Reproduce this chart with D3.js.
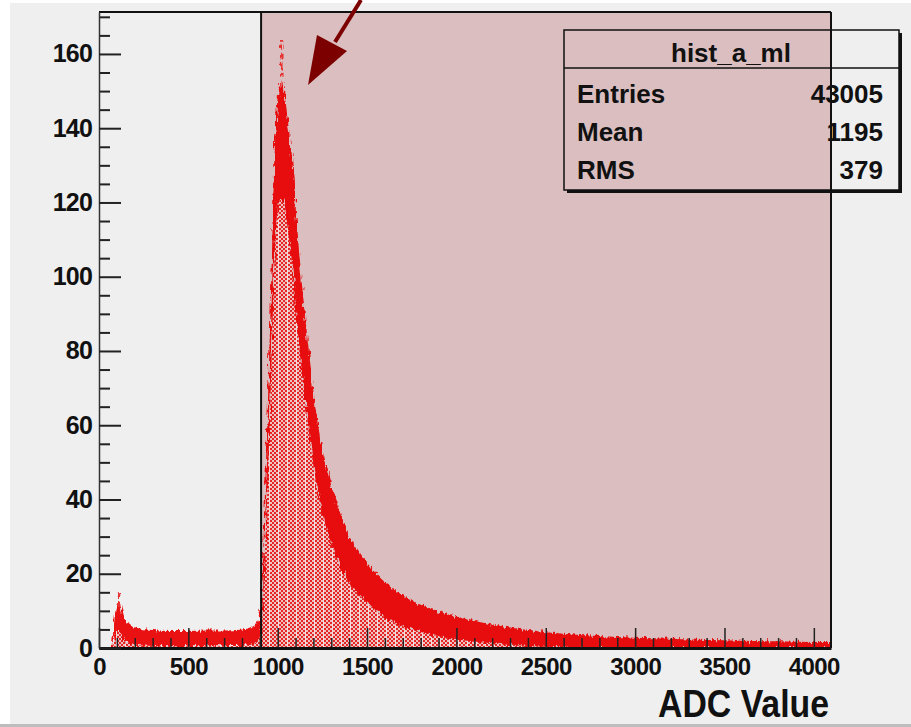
<!DOCTYPE html>
<html>
<head>
<meta charset="utf-8">
<script src="https://cdn.jsdelivr.net/npm/d3@7"></script>
<style>
  body { margin: 0; background: #fff; }
  svg text { font-family: "Liberation Sans", Arial, Helvetica, sans-serif; }
</style>
</head>
<body>
<div id="chart"></div>
<script>
// ADC spectrum: bin position (ADC) and mean entries per channel
const adcValues = [0, 60, 75, 90, 105, 120, 140, 170, 200, 300, 400, 500, 600, 700, 800, 860, 890, 905,
  910, 920, 930, 940, 950, 960, 970, 980, 990, 1000, 1015, 1030, 1045, 1060, 1080, 1100, 1120, 1140,
  1160, 1180, 1200, 1225, 1250, 1275, 1300, 1350, 1400, 1450, 1500, 1550, 1600, 1700, 1800, 1900,
  2000, 2100, 2200, 2300, 2400, 2500, 2600, 2800, 3000, 3200, 3400, 3600, 3800, 4000, 4096];
const entries = [0, 0, 1, 6, 8.5, 7.5, 5, 4, 3.2, 2.7, 2.5, 2.5, 2.6, 2.6, 2.8, 3.5, 5, 7,
  8, 22, 36, 49, 64, 80, 98, 115, 127, 133, 136, 136, 132, 126, 118, 106, 94, 84,
  75, 67, 59, 51, 45, 40, 36, 29, 24, 20.5, 17.5, 15, 13, 10, 8,
  6.5, 5.4, 4.5, 3.8, 3.2, 2.7, 2.3, 2.0, 1.6, 1.3, 1.1, 0.9, 0.8, 0.7, 0.6, 0.6];
// single high bins sticking out above the band
const spikeAdc = [112, 1020];
const spikeTop = [15, 164];

const xTicks = [0, 500, 1000, 1500, 2000, 2500, 3000, 3500, 4000];
const yTicks = [0, 20, 40, 60, 80, 100, 120, 140, 160];
const signalCut = 907;

const statNames = ["Entries", "Mean", "RMS"];
const statValues = ["43005", "1195", "379"];
const histName = "hist_a_ml";

const width = 911, height = 727;
const x = d3.scaleLinear().domain([0, 4096]).range([99, 831]);
const y = d3.scaleLinear().domain([0, 171.3]).range([648, 12]);
const k = 1.3; // spread of the channel-to-channel fluctuation

const svg = d3.select("#chart").append("svg")
  .attr("width", width).attr("height", height);

const defs = svg.append("defs");
const pat = defs.append("pattern").attr("id", "hatch")
  .attr("width", 9).attr("height", 4).attr("patternUnits", "userSpaceOnUse");
pat.append("rect").attr("width", 9).attr("height", 4).attr("fill", "#efc2c2");
[[0, 0], [4, 0], [2, 2], [6, 2]].forEach(p => {
  pat.append("rect").attr("x", p[0]).attr("y", p[1]).attr("width", 2).attr("height", 2)
    .attr("fill", "#e42626");
});
pat.append("rect").attr("x", 8).attr("width", 1).attr("height", 4).attr("fill", "#f4dada");

// ragged edge for the fluctuation band, like single channels poking out
const rough = defs.append("filter").attr("id", "rough")
  .attr("x", "-5%").attr("y", "-5%").attr("width", "110%").attr("height", "110%");
rough.append("feTurbulence").attr("type", "fractalNoise")
  .attr("baseFrequency", "0.45 0.12").attr("numOctaves", 2).attr("seed", 3).attr("result", "noise");
rough.append("feDisplacementMap").attr("in", "SourceGraphic").attr("in2", "noise")
  .attr("scale", 7).attr("xChannelSelector", "R").attr("yChannelSelector", "G");

// canvas
svg.append("rect").attr("width", width).attr("height", height).attr("fill", "#fff");
svg.append("rect").attr("x", 10).attr("y", 3).attr("width", width - 10).attr("height", 721)
  .attr("fill", "#efefef");
svg.append("rect").attr("x", 0).attr("y", 724).attr("width", width).attr("height", 3)
  .attr("fill", "#bdbdbd");

// highlighted signal region
svg.append("rect")
  .attr("x", x(signalCut)).attr("y", y(171.3))
  .attr("width", x(4096) - x(signalCut)).attr("height", y(0) - y(171.3))
  .attr("fill", "#dbbfc0");

const data = adcValues.map((a, i) => [a, entries[i]]);
const lo = n => Math.max(0, n - k * Math.sqrt(n));
const hi = n => n + k * Math.sqrt(n);

const plot = svg.append("g");
plot.append("clipPath").attr("id", "plotClip").append("rect")
  .attr("x", x(0)).attr("y", y(171.3)).attr("width", x(4096) - x(0)).attr("height", y(0) - y(171.3));
const inner = plot.append("g").attr("clip-path", "url(#plotClip)");

inner.append("path").datum(data)
  .attr("fill", "url(#hatch)")
  .attr("d", d3.area().x(d => x(d[0])).y0(y(0)).y1(d => y(lo(d[1]))).curve(d3.curveMonotoneX));

const bandG = inner.append("g").attr("filter", "url(#rough)");
bandG.append("path").datum(data)
  .attr("fill", "#e80000").attr("opacity", 0.93)
  .attr("d", d3.area().x(d => x(d[0])).y0(d => y(lo(d[1]))).y1(d => y(hi(d[1]))).curve(d3.curveMonotoneX));

spikeAdc.forEach((a, i) => {
  const j = d3.bisectLeft(adcValues, a);
  bandG.append("line")
    .attr("x1", x(a)).attr("x2", x(a))
    .attr("y1", y(hi(entries[j]))).attr("y2", y(spikeTop[i]))
    .attr("stroke", "#e83030").attr("stroke-width", 2.5).attr("stroke-dasharray", "6,3");
});

// frame lines
svg.append("line").attr("x1", x(0)).attr("x2", x(4096)).attr("y1", y(171.3)).attr("y2", y(171.3))
  .attr("stroke", "#111").attr("stroke-width", 2);
svg.append("line").attr("x1", x(signalCut)).attr("x2", x(signalCut)).attr("y1", y(171.3)).attr("y2", y(0))
  .attr("stroke", "#111").attr("stroke-width", 2);
svg.append("line").attr("x1", x(4096)).attr("x2", x(4096)).attr("y1", y(171.3)).attr("y2", y(0))
  .attr("stroke", "#111").attr("stroke-width", 2);

// axes
const fmt = d3.format("d");
const xMinor = d3.range(0, 4096, 100).filter(v => v % 500 !== 0);
svg.append("g").attr("transform", `translate(0,${y(0)})`)
  .call(d3.axisBottom(x).tickValues(xMinor).tickSize(-10).tickFormat(""))
  .call(g => g.select(".domain").remove())
  .call(g => g.selectAll("line").attr("stroke", "#222").attr("stroke-width", 1.5));
svg.append("g").attr("transform", `translate(0,${y(0)})`)
  .call(d3.axisBottom(x).tickValues(xTicks).tickFormat(fmt).tickSize(-20).tickPadding(10).tickSizeOuter(0))
  .call(g => g.select(".domain").attr("stroke", "#111").attr("stroke-width", 3))
  .call(g => g.selectAll("line").attr("stroke", "#222").attr("stroke-width", 1.5))
  .call(g => g.selectAll("text").attr("font-size", 24).attr("font-weight", "bold").attr("fill", "#111")
    .attr("letter-spacing", -0.6));

const yMinor = d3.range(0, 171, 5).filter(v => v % 20 !== 0);
svg.append("g").attr("transform", `translate(${x(0)},0)`)
  .call(d3.axisLeft(y).tickValues(yMinor).tickSize(-11).tickFormat(""))
  .call(g => g.select(".domain").remove())
  .call(g => g.selectAll("line").attr("stroke", "#222").attr("stroke-width", 2));
svg.append("g").attr("transform", `translate(${x(0)},0)`)
  .call(d3.axisLeft(y).tickValues(yTicks).tickFormat(fmt).tickSize(-22).tickPadding(7).tickSizeOuter(0))
  .call(g => g.select(".domain").attr("stroke", "#333").attr("stroke-width", 1.5))
  .call(g => g.selectAll("line").attr("stroke", "#222").attr("stroke-width", 2))
  .call(g => g.selectAll("text").attr("font-size", 25).attr("font-weight", "bold").attr("fill", "#111")
    .attr("letter-spacing", -0.8));

svg.append("text")
  .attr("x", 829).attr("y", 717).attr("text-anchor", "end")
  .attr("font-size", 38).attr("font-weight", "bold").attr("fill", "#111")
  .attr("textLength", 171).attr("lengthAdjust", "spacingAndGlyphs")
  .text("ADC Value");

// arrow
svg.append("line").attr("x1", 361).attr("y1", 0).attr("x2", 335).attr("y2", 42)
  .attr("stroke", "#7d0000").attr("stroke-width", 4);
svg.append("path").attr("d", "M317,35 L347,51 L308,85 Z").attr("fill", "#7d0000");

// stats box with its drop shadow on the right and bottom
const box = svg.append("g");
box.append("rect").attr("x", 899).attr("y", 33).attr("width", 3).attr("height", 160).attr("fill", "#111");
box.append("rect").attr("x", 567).attr("y", 190).attr("width", 335).attr("height", 3).attr("fill", "#111");
box.append("rect").attr("x", 564).attr("y", 30).attr("width", 335).attr("height", 160)
  .attr("fill", "none").attr("stroke", "#111").attr("stroke-width", 1.5);
box.append("line").attr("x1", 564).attr("x2", 899).attr("y1", 68).attr("y2", 68)
  .attr("stroke", "#111").attr("stroke-width", 1.5);
box.append("text").attr("x", 731).attr("y", 62).attr("text-anchor", "middle")
  .attr("font-size", 26).attr("font-weight", "bold").attr("fill", "#111").text(histName);
statNames.forEach((s, i) => {
  const by = 103 + i * 38;
  box.append("text").attr("x", 577).attr("y", by).attr("font-size", 26).attr("font-weight", "bold")
    .attr("fill", "#111").text(s);
  box.append("text").attr("x", 883).attr("y", by).attr("text-anchor", "end").attr("font-size", 26)
    .attr("font-weight", "bold").attr("fill", "#111").text(statValues[i]);
});
</script>
</body>
</html>
